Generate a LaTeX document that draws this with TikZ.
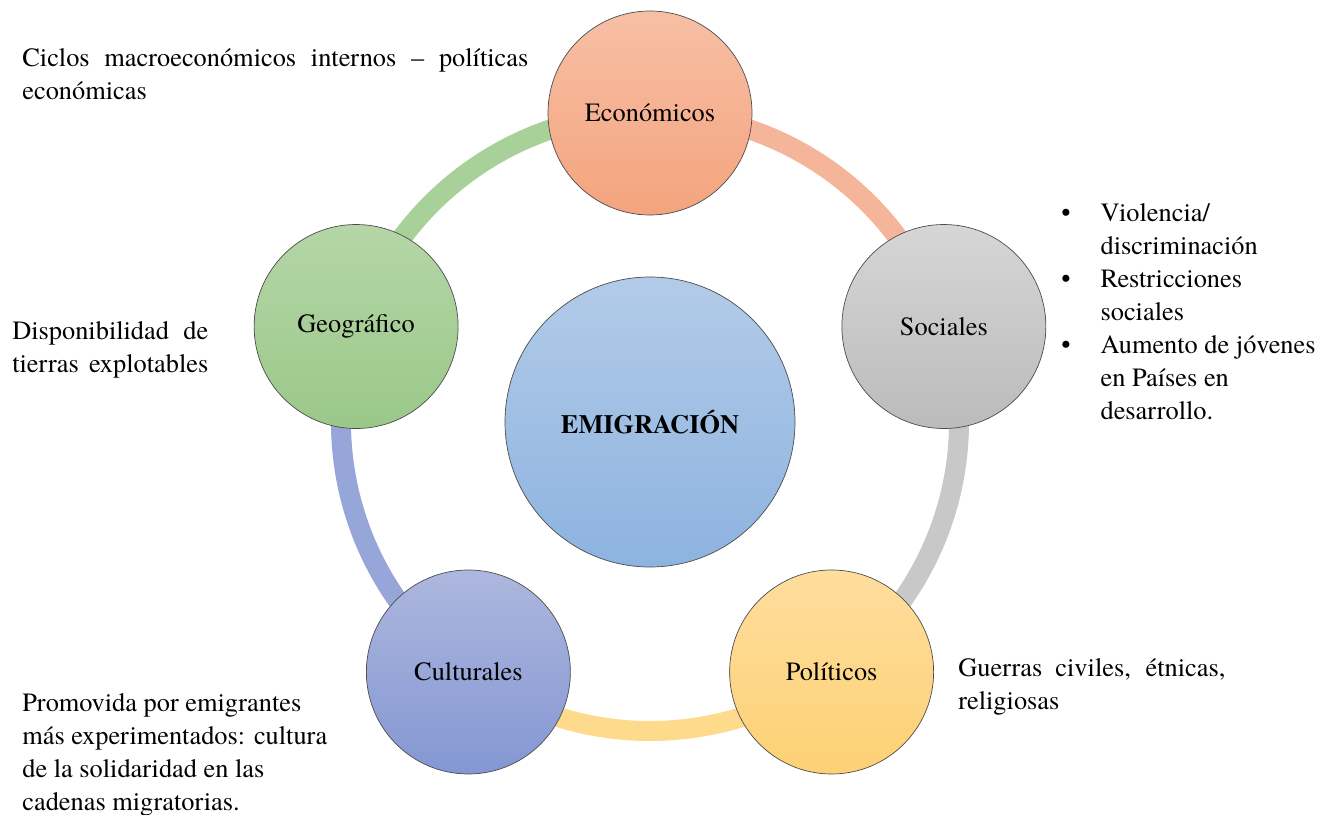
\documentclass[tikz,border=0pt]{standalone}
\usepackage{fontspec}
\setmainfont{texgyretermes}[Extension=.otf,UprightFont=*-regular,BoldFont=*-bold,ItalicFont=*-italic,BoldItalicFont=*-bolditalic]
\definecolor{ecoA}{HTML}{F7BFA5}
\definecolor{ecoB}{HTML}{F4A47E}
\definecolor{socA}{HTML}{D6D6D6}
\definecolor{socB}{HTML}{BBBBBB}
\definecolor{polA}{HTML}{FEDD9E}
\definecolor{polB}{HTML}{FDD174}
\definecolor{culA}{HTML}{ADB7DE}
\definecolor{culB}{HTML}{8497D3}
\definecolor{geoA}{HTML}{B5D6A7}
\definecolor{geoB}{HTML}{9AC889}
\definecolor{emiA}{HTML}{B2CBE8}
\definecolor{emiB}{HTML}{8DB3E0}
\definecolor{ringeco}{HTML}{F5B59A}
\definecolor{ringsoc}{HTML}{C8C8C8}
\definecolor{ringpol}{HTML}{FDDA8C}
\definecolor{ringcul}{HTML}{97A6D8}
\definecolor{ringgeo}{HTML}{A8D199}
\begin{document}
\begin{tikzpicture}[font=\fontsize{15}{18.8}\selectfont,
    factor/.style={circle,draw=gray!60!black,thin,minimum size=4.08cm,inner sep=0pt},
    ring/.style={line width=0.4cm,draw=#1},
    note/.style={anchor=north west,align=left,inner sep=0pt}]
  \useasboundingbox (-13,-7.84) rectangle (13.56,8.44);
  % vertices del pentagono
  \coordinate (peco) at (90:6.18);
  \coordinate (psoc) at (18:6.18);
  \coordinate (ppol) at (-54:6.18);
  \coordinate (pcul) at (-126:6.18);
  \coordinate (pgeo) at (162:6.18);
  % anillo
  \draw[ring=ringeco] (peco) arc[start angle=90,end angle=18,radius=6.18];
  \draw[ring=ringsoc] (psoc) arc[start angle=18,end angle=-54,radius=6.18];
  \draw[ring=ringpol] (ppol) arc[start angle=-54,end angle=-126,radius=6.18];
  \draw[ring=ringcul] (pcul) arc[start angle=-126,end angle=-198,radius=6.18];
  \draw[ring=ringgeo] (pgeo) arc[start angle=162,end angle=90,radius=6.18];
  % circulos
  \node[factor,top color=ecoA,bottom color=ecoB] (eco) at (peco) {Económicos};
  \node[factor,top color=socA,bottom color=socB] (soc) at (psoc) {Sociales};
  \node[factor,top color=polA,bottom color=polB] (pol) at (ppol) {Políticos};
  \node[factor,top color=culA,bottom color=culB] (cul) at (pcul) {Culturales};
  \node[factor,top color=geoA,bottom color=geoB] (geo) at (pgeo) {Geográfico};
  \node[factor,minimum size=5.8cm,top color=emiA,bottom color=emiB,font=\fontsize{15}{18.8}\selectfont\bfseries] (emi) at (0,0) {EMIGRACIÓN};
  % textos
  \node[note] (ciclos) at (-12.56,7.48) {\makebox[10.12cm][s]{Ciclos macroeconómicos internos -- políticas}\\económicas};
  \node[note] (tierras) at (-12.76,2.02) {\makebox[3.92cm][s]{Disponibilidad de}\\\makebox[3.92cm][s]{tierras explotables}};
  \node[note] (promo) at (-12.56,-5.42) {Promovida por emigrantes\\más experimentados: cultura\\de la solidaridad en las\\cadenas migratorias.};
  \node[note] (guerras) at (6.16,-4.72) {\makebox[5.34cm][s]{Guerras civiles, étnicas,}\\religiosas};
  \node[note] (lista) at (8.22,4.48) {\begin{tabular}{@{}l@{\hspace{0.6cm}}l@{}}
    \textbullet & Violencia/\\
                & discriminación\\
    \textbullet & Restricciones\\
                & sociales\\
    \textbullet & Aumento de jóvenes\\
                & en Países en\\
                & desarrollo.
  \end{tabular}};
\end{tikzpicture}
\end{document}
